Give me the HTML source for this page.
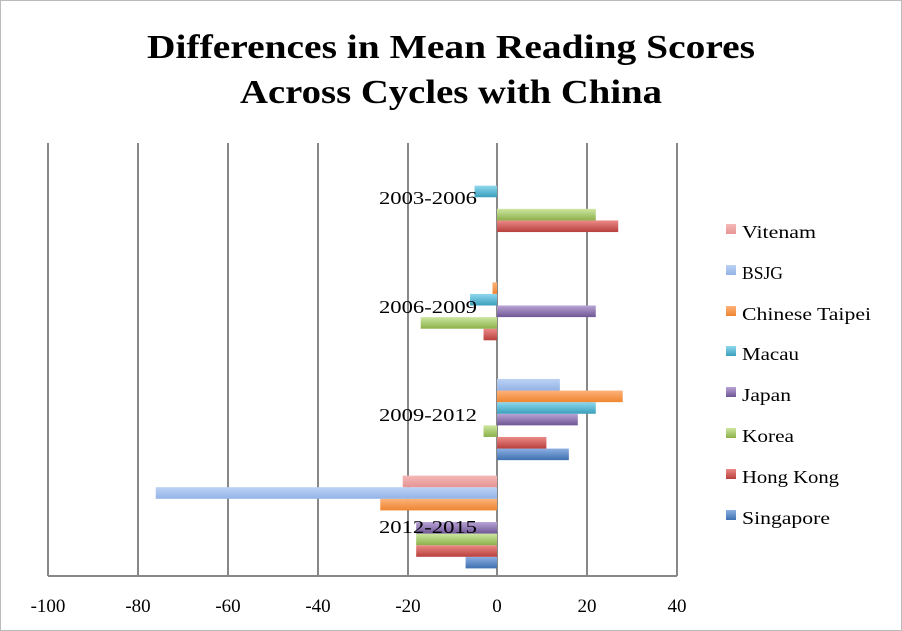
<!DOCTYPE html>
<html><head><meta charset="utf-8"><style>
html,body{margin:0;padding:0;background:#fff}
svg{display:block}
text{font-family:"Liberation Serif",serif;fill:#000}
</style></head><body>
<svg id="s" width="902" height="631" xmlns="http://www.w3.org/2000/svg">
<defs>
<linearGradient id="g0" x1="0" y1="0" x2="0" y2="1"><stop offset="0" stop-color="#8cb0e3"/><stop offset="1" stop-color="#3f70b0"/></linearGradient>
<linearGradient id="g1" x1="0" y1="0" x2="0" y2="1"><stop offset="0" stop-color="#ec8a88"/><stop offset="1" stop-color="#b8403d"/></linearGradient>
<linearGradient id="g2" x1="0" y1="0" x2="0" y2="1"><stop offset="0" stop-color="#cde7a0"/><stop offset="1" stop-color="#8cb04a"/></linearGradient>
<linearGradient id="g3" x1="0" y1="0" x2="0" y2="1"><stop offset="0" stop-color="#b8a4d6"/><stop offset="1" stop-color="#6f5694"/></linearGradient>
<linearGradient id="g4" x1="0" y1="0" x2="0" y2="1"><stop offset="0" stop-color="#8fd8ef"/><stop offset="1" stop-color="#3a9fbc"/></linearGradient>
<linearGradient id="g5" x1="0" y1="0" x2="0" y2="1"><stop offset="0" stop-color="#fdb27a"/><stop offset="1" stop-color="#ef8530"/></linearGradient>
<linearGradient id="g6" x1="0" y1="0" x2="0" y2="1"><stop offset="0" stop-color="#bcd2f5"/><stop offset="1" stop-color="#93b3e6"/></linearGradient>
<linearGradient id="g7" x1="0" y1="0" x2="0" y2="1"><stop offset="0" stop-color="#f6b8b8"/><stop offset="1" stop-color="#e59594"/></linearGradient>
</defs>
<rect x="0.5" y="0.5" width="901" height="630" fill="#fff" stroke="#bbb"/>
<text x="147" y="58" font-size="34" font-weight="bold" textLength="608" lengthAdjust="spacingAndGlyphs">Differences in Mean Reading Scores</text>
<text x="240" y="103" font-size="34" font-weight="bold" textLength="422" lengthAdjust="spacingAndGlyphs">Across Cycles with China</text>
<g id="grid" stroke="#888" stroke-width="2"></g>
<g id="bars"></g>
<line x1="48" y1="576" x2="677" y2="576" stroke="#888" stroke-width="2"/>
<g font-size="19" text-anchor="middle">
<text x="48" y="612">-100</text><text x="138" y="612">-80</text><text x="228" y="612">-60</text><text x="318" y="612">-40</text><text x="408" y="612">-20</text><text x="497" y="612">0</text><text x="587" y="612">20</text><text x="677" y="612">40</text>
</g>
<g font-size="18">
<text x="379" y="204" textLength="98" lengthAdjust="spacingAndGlyphs">2003-2006</text>
<text x="379" y="313" textLength="98" lengthAdjust="spacingAndGlyphs">2006-2009</text>
<text x="379" y="421" textLength="98" lengthAdjust="spacingAndGlyphs">2009-2012</text>
<text x="379" y="533" textLength="98" lengthAdjust="spacingAndGlyphs">2012-2015</text>
</g>
<g font-size="18">
<rect x="726" y="224" width="10" height="10" fill="url(#g7)"/><text x="742" y="238" textLength="74" lengthAdjust="spacingAndGlyphs">Vitenam</text>
<rect x="726" y="265" width="10" height="10" fill="url(#g6)"/><text x="742" y="279" textLength="41" lengthAdjust="spacingAndGlyphs">BSJG</text>
<rect x="726" y="306" width="10" height="10" fill="url(#g5)"/><text x="742" y="320" textLength="129" lengthAdjust="spacingAndGlyphs">Chinese Taipei</text>
<rect x="726" y="346" width="10" height="10" fill="url(#g4)"/><text x="742" y="360" textLength="57" lengthAdjust="spacingAndGlyphs">Macau</text>
<rect x="726" y="387" width="10" height="10" fill="url(#g3)"/><text x="742" y="401" textLength="49" lengthAdjust="spacingAndGlyphs">Japan</text>
<rect x="726" y="428" width="10" height="10" fill="url(#g2)"/><text x="742" y="442" textLength="52" lengthAdjust="spacingAndGlyphs">Korea</text>
<rect x="726" y="469" width="10" height="10" fill="url(#g1)"/><text x="742" y="483" textLength="97" lengthAdjust="spacingAndGlyphs">Hong Kong</text>
<rect x="726" y="510" width="10" height="10" fill="url(#g0)"/><text x="742" y="524" textLength="88" lengthAdjust="spacingAndGlyphs">Singapore</text>
</g>
</svg>
<script>
(function(){
var NS="http://www.w3.org/2000/svg";
var g=document.getElementById("grid");
[48,138,228,318,408,497,587,677].forEach(function(x){var l=document.createElementNS(NS,"line");l.setAttribute("x1",x);l.setAttribute("x2",x);l.setAttribute("y1",143);l.setAttribute("y2",576);g.appendChild(l);});
var data=[[-7,-18,-18,-18,null,-26,-76,-21],[16,11,-3,18,22,28,14,null],[null,-3,-17,22,-6,-1,null,null],[null,27,22,null,-5,null,null,null]];
var b=document.getElementById("bars");
for(var i=0;i<4;i++){var bot=576-i*108.25;for(var j=0;j<8;j++){var v=data[i][j];if(v===null)continue;
var yt=bot-7.6-(j+1)*11.6;var x0=497,x1=497+v*4.49;var r=document.createElementNS(NS,"rect");
r.setAttribute("x",Math.min(x0,x1));r.setAttribute("width",Math.abs(x1-x0));r.setAttribute("y",yt);r.setAttribute("height",11.6);r.setAttribute("fill","url(#g"+j+")");b.appendChild(r);}}
})();
</script>
</body></html>
